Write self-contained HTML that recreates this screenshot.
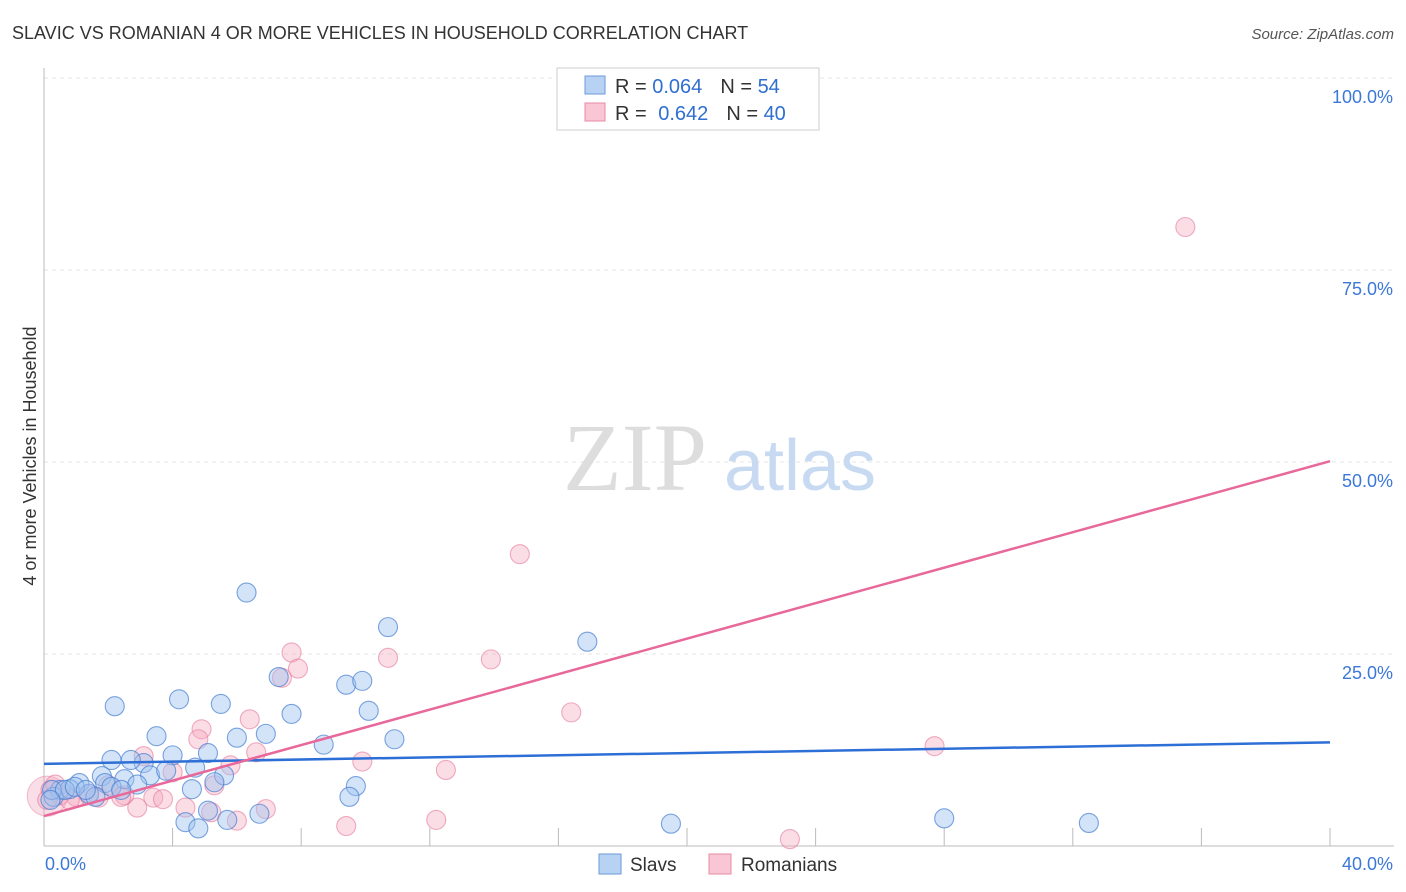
<!DOCTYPE html>
<html><head><meta charset="utf-8"><style>
body{margin:0;background:#fff;font-family:"Liberation Sans",sans-serif;}
#c{position:absolute;left:0;top:0;width:1406px;height:892px;}
</style></head><body>
<svg id="c" width="1406" height="892">
<text x="12" y="39" font-size="18" fill="#333">SLAVIC VS ROMANIAN 4 OR MORE VEHICLES IN HOUSEHOLD CORRELATION CHART</text>
<text x="1394" y="39" font-size="15" fill="#555" font-style="italic" text-anchor="end">Source: ZipAtlas.com</text>
<text x="36" y="456" font-size="18" fill="#333" text-anchor="middle" transform="rotate(-90 36 456)">4 or more Vehicles in Household</text>
<g id="grid"></g>
<g id="wm"><text x="635" y="490" font-size="96" fill="#ddd" font-family="Liberation Serif,serif" text-anchor="middle">ZIP</text><text x="800" y="490" font-size="72" fill="#c8daf2" text-anchor="middle">atlas</text></g>
<g id="pts"></g>
<g id="lines"></g>
<g>
<rect x="557" y="68" width="262" height="62" fill="#fff" stroke="#ccc"/>
<rect x="585" y="76" width="20" height="18" fill="#b8d2f3" stroke="#6c9ad8"/>
<rect x="585" y="103" width="20" height="18" fill="#f8c6d4" stroke="#e88aa5"/>
<text x="615" y="93" font-size="20" fill="#333">R = <tspan fill="#2f6fd0">0.064</tspan><tspan dx="18">N = </tspan><tspan fill="#2f6fd0">54</tspan></text>
<text x="615" y="120" font-size="20" fill="#333">R = <tspan dx="6" fill="#2f6fd0">0.642</tspan><tspan dx="18">N = </tspan><tspan fill="#2f6fd0">40</tspan></text>
</g>
<g>
<rect x="599" y="854" width="22" height="20" fill="#b8d2f3" stroke="#6c9ad8"/>
<text x="630" y="871" font-size="19" fill="#333">Slavs</text>
<rect x="709" y="854" width="22" height="20" fill="#f8c6d4" stroke="#e88aa5"/>
<text x="741" y="871" font-size="19" fill="#333">Romanians</text>
</g>
</svg>
<script>
const yTicks=[25,50,75,100];
const yTickLabels=["25.0%","50.0%","75.0%","100.0%"];
const xTicks=[0,4,8,12,16,20,24,28,32,36,40];
const blueX=[6.3,10.7,16.9,7.3,9.4,9.9,2.2,4.2,5.5,7.7,10.1,3.5,6.0,6.9,10.9,8.7,2.1,4.0,5.1,3.1,2.7,1.8,2.5,3.3,3.8,4.7,5.6,5.3,1.1,1.9,2.9,0.5,0.8,1.4,0.3,1.6,2.1,4.6,9.7,9.5,5.1,4.4,4.8,5.7,6.7,19.5,28.0,32.5,0.25,0.65,0.96,1.3,0.2,2.4];
const blueY=[33.0,28.5,26.6,22.0,21.0,21.5,18.2,19.1,18.5,17.2,17.6,14.3,14.1,14.6,13.9,13.2,11.2,11.8,12.1,10.8,11.2,9.1,8.7,9.2,9.8,10.2,9.2,8.3,8.2,8.2,8.0,7.3,7.4,6.8,6.4,6.4,7.7,7.4,7.8,6.4,4.6,3.1,2.3,3.4,4.2,2.9,3.6,3.0,7.3,7.3,7.7,7.3,6.0,7.3];
const pinkX=[35.5,14.8,7.7,10.7,13.9,7.9,7.4,16.4,6.4,4.9,4.8,3.1,6.6,27.7,5.8,9.9,12.5,4.0,5.3,2.0,2.5,3.4,3.7,4.4,2.9,6.9,6.0,9.4,12.2,23.2,0.2,0.5,1.0,1.4,1.7,2.4,0.1,0.8,5.2,0.35];
const pinkY=[80.6,38.0,25.2,24.5,24.3,23.1,21.9,17.4,16.5,15.2,13.9,11.7,12.2,13.0,10.5,11.0,9.9,9.6,7.9,7.9,6.6,6.3,6.1,5.0,5.0,4.8,3.3,2.6,3.4,0.9,7.3,6.6,6.4,6.6,6.3,6.4,6.0,6.0,4.4,8.0];
const blueLine=[10.7,13.5];
const pinkLine=[3.9,50.1];
const X=v=>44+v/40*1286, Y=v=>846-v/100*768;
const NS="http://www.w3.org/2000/svg";
function mk(t,a,p){const e=document.createElementNS(NS,t);for(const k in a)e.setAttribute(k,a[k]);p.appendChild(e);return e;}
const g=document.getElementById('grid');
yTicks.forEach((t,i)=>{
 const l=mk('line',{x1:44,x2:1394,y1:Y(t),y2:Y(t),stroke:'#e4e4e4','stroke-dasharray':'4 4'},g);
 
 
 const tx=mk('text',{x:1393,y:Y(t)+25,'font-size':18,fill:'#3b78d8','text-anchor':'end'},g);
 tx.textContent=yTickLabels[i];
 
 
});
const ax=mk('line',{x1:44,x2:44,y1:68,y2:846,stroke:'#bbb'},g);


const bx=mk('line',{x1:44,x2:1394,y1:846,y2:846,stroke:'#bbb'},g);


xTicks.forEach(t=>{
 const l=mk('line',{x1:X(t),x2:X(t),y1:828,y2:846,stroke:'#bbb'},g);
 
 
});
[[0,"0.0%","start",45],[40,"40.0%","end",1393]].forEach(a=>{
 const tx=mk('text',{x:a[3],y:870,'font-size':18,fill:'#3b78d8','text-anchor':a[2]},g);
 tx.textContent=a[1];
 
 
});
const P=document.getElementById('pts');
const big=mk('circle',{cx:X(0.1),cy:Y(6.5),r:20,fill:'rgba(240,160,185,0.35)',stroke:'rgba(230,130,160,0.5)'},P);


pinkX.forEach((x,i)=>{
 const c=mk('circle',{cx:X(x),cy:Y(pinkY[i]),r:9.5,fill:'rgba(245,170,192,0.4)',stroke:'rgba(228,120,155,0.6)','stroke-width':1.1},P);
 
 
});
blueX.forEach((x,i)=>{
 const c=mk('circle',{cx:X(x),cy:Y(blueY[i]),r:9.5,fill:'rgba(160,195,240,0.45)',stroke:'rgba(70,125,210,0.7)','stroke-width':1.1},P);
 
 
});
const L=document.getElementById('lines');
const bl=mk('line',{x1:X(0),x2:X(40),y1:Y(blueLine[0]),y2:Y(blueLine[1]),stroke:'#2d6fd6','stroke-width':2.5},L);


const pl=mk('line',{x1:X(0),x2:X(40),y1:Y(pinkLine[0]),y2:Y(pinkLine[1]),stroke:'#e8689a','stroke-width':2.5},L);


</script>
</body></html>
